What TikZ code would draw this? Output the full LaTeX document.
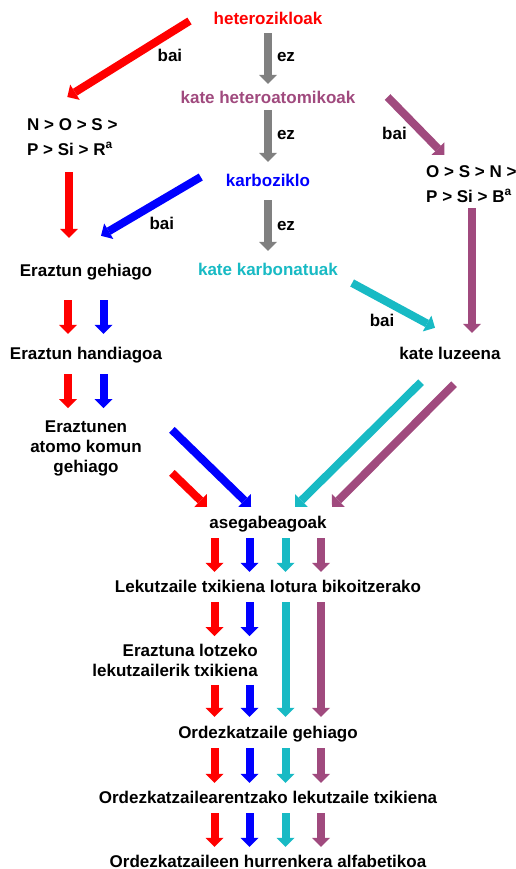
\documentclass[tikz,border=0pt]{standalone}
\usepackage{fontspec}
\setmainfont{Liberation Sans}
\usetikzlibrary{arrows.meta}

\definecolor{hetpurple}{RGB}{160,74,126}
\definecolor{karbcyan}{RGB}{24,186,196}
\definecolor{ezgray}{RGB}{128,128,128}

\begin{document}
\begin{tikzpicture}[x=1pt, y=-1pt,
        every node/.style={font=\fontsize{17}{20}\selectfont\bfseries, inner sep=0pt},
        rule/.style={text height=12pt, text depth=4pt},
        flow/.style={draw=#1, line width=8pt, -{Triangle[width=18pt,length=9pt,line width=0pt]}}]
                \useasboundingbox (0,0) rectangle (516,869);

                % CLASSES
                \node[rule, text=red] (hz) at (268,21) {heterozikloak};
                \node[rule, text=hetpurple] (kh) at (268,100) {kate heteroatomikoak};
                \node[rule, text=blue] (kz) at (268,182) {karboziklo};
                \node[rule, text=karbcyan] (kk) at (268,271) {kate karbonatuak};

                % PRIORITIES
                \node[anchor=north west, align=left] (nos) at (27,118) {N > O > S >\\[5pt]P > Si > R\textsuperscript{a}};
                \node[anchor=north west, align=left] (osn) at (426,165) {O > S > N >\\[5pt]P > Si > B\textsuperscript{a}};

                % RULES
                \node[rule] (eg) at (86,272) {Eraztun gehiago};
                \node[rule] (eh) at (86,355) {Eraztun handiagoa};
                \node[anchor=north, align=center] (ea) at (86,421) {Eraztunen\\atomo komun\\gehiago};
                \node[rule] (kl) at (450,355) {kate luzeena};
                \node[rule] (ag) at (268,524) {asegabeagoak};
                \node[rule] (lt) at (268,588) {Lekutzaile txikiena lotura bikoitzerako};
                \node[anchor=north east, align=right] (el) at (258,644) {Eraztuna lotzeko\\lekutzailerik txikiena};
                \node[rule] (og) at (268,734) {Ordezkatzaile gehiago};
                \node[rule] (ol) at (268,799) {Ordezkatzailearentzako lekutzaile txikiena};
                \node[rule] (oh) at (268,863) {Ordezkatzaileen hurrenkera alfabetikoa};

                % DECISIONS
                \draw[flow=red] ([xshift=-24pt]hz.west) -- node[rule, xshift=41.5pt, yshift=1pt] {bai} ([xshift=-5pt,yshift=21pt]nos.north);
                \draw[flow=ezgray] ([yshift=-4pt]hz.south) -- node[rule, xshift=18pt, yshift=.5pt] {ez} ([yshift=8pt]kh.north);
                \draw[flow=ezgray] ([yshift=-2pt]kh.south) -- node[rule, xshift=18pt] {ez} ([yshift=12pt]kz.north);
                \draw[flow=hetpurple] ([xshift=32pt,yshift=3pt]kh.east) -- node[rule, xshift=-21.5pt, yshift=-10pt] {bai} ([xshift=-27pt,yshift=10pt]osn.north);
                \draw[flow=ezgray] ([yshift=-10pt]kz.south) -- node[rule, xshift=18pt, yshift=-.5pt] {ez} ([yshift=12pt]kk.north);
                \draw[flow=blue] ([xshift=-25pt,yshift=5pt]kz.west) -- node[rule, xshift=11pt, yshift=-19.5pt] {bai} ([xshift=15pt,yshift=28pt]eg.north);
                \draw[flow=karbcyan] ([xshift=14pt,yshift=-12pt]kk.east) -- node[rule, xshift=-11.5pt, yshift=-17.5pt] {bai} ([xshift=-15pt,yshift=19pt]kl.north);
                \draw[flow=red] ([xshift=-17pt,yshift=-17pt]eg.north |- nos.south) -- ([xshift=-17pt,yshift=26pt]eg.north);
                \draw[flow=hetpurple] ([xshift=22pt,yshift=-6pt]kl.north |- osn.south) -- ([xshift=22pt,yshift=14pt]kl.north);

                % RING CHAIN
                \foreach \c/\dx in {red/-18, blue/17.5} {
                    \draw[flow=\c] ([xshift=\dx pt,yshift=-20pt]eg.south) -- ([xshift=\dx pt,yshift=13pt]eh.north);
                    \draw[flow=\c] ([xshift=\dx pt,yshift=-11pt]eh.south) -- ([xshift=\dx pt,yshift=13pt]ea.north);
                }

                % MERGE
                \draw[flow=blue] ([xshift=30pt,yshift=19pt]ea.east) -- ([xshift=-17pt,yshift=9pt]ag.north);
                \draw[flow=red] ([xshift=30pt,yshift=-24pt]ea.east) -- ([xshift=-61pt,yshift=9pt]ag.north);
                \draw[flow=karbcyan] ([xshift=-29pt,yshift=-19pt]kl.south) -- ([xshift=27pt,yshift=9pt]ag.north);
                \draw[flow=hetpurple] ([xshift=4pt,yshift=-21pt]kl.south) -- ([xshift=64pt,yshift=9pt]ag.north);

                % COMMON CHAIN
                \foreach \c/\dx in {red/-53.5, blue/-18.5, karbcyan/17.5, hetpurple/53} {
                    \draw[flow=\c] ([xshift=\dx pt,yshift=-6pt]ag.south) -- ([xshift=\dx pt,yshift=8pt]lt.north);
                    \draw[flow=\c] ([xshift=\dx pt,yshift=-6pt]og.south) -- ([xshift=\dx pt,yshift=8pt]ol.north);
                    \draw[flow=\c] ([xshift=\dx pt,yshift=-6pt]ol.south) -- ([xshift=\dx pt,yshift=8pt]oh.north);
                }
                \foreach \c/\dx in {red/-53.5, blue/-18.5} {
                    \draw[flow=\c] ([xshift=\dx pt,yshift=-6pt]lt.south) -- ([xshift=\dx pt,yshift=8pt]lt.south |- el.north);
                    \draw[flow=\c] ([xshift=\dx pt,yshift=-8pt]lt.south |- el.south) -- ([xshift=\dx pt,yshift=9pt]og.north);
                }
                \foreach \c/\dx in {karbcyan/17.5, hetpurple/53}
                    \draw[flow=\c] ([xshift=\dx pt,yshift=-6pt]lt.south) -- ([xshift=\dx pt,yshift=9pt]og.north);

            \end{tikzpicture}
\end{document}
